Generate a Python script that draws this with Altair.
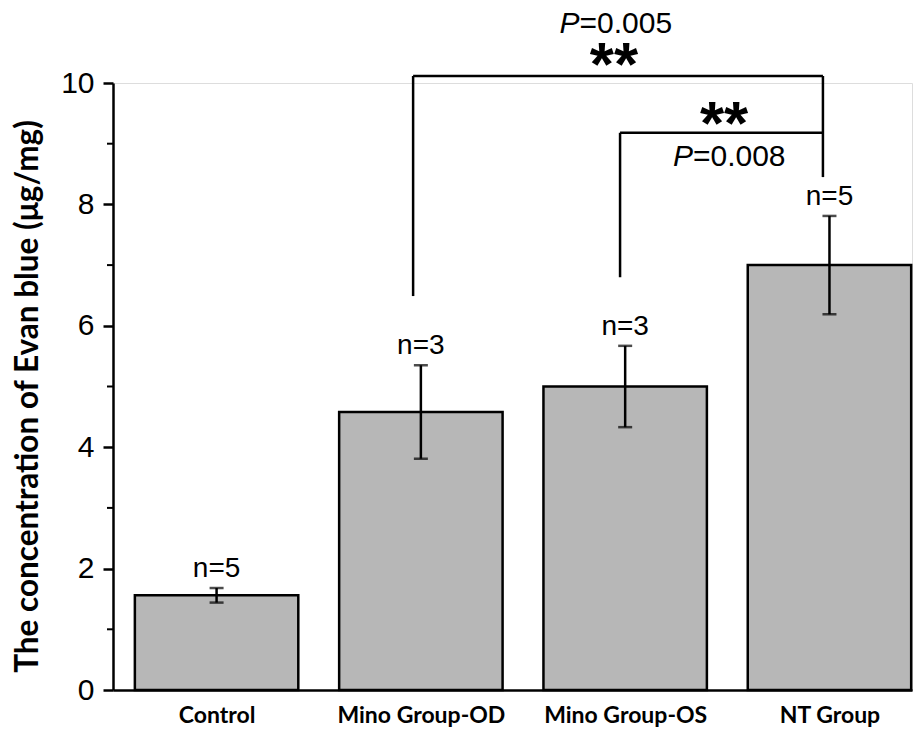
import altair as alt
import pandas as pd

# ---- data ----
groups = ["Control", "Mino Group-OD", "Mino Group-OS", "NT Group"]
positions = [0, 1, 2, 3]
means = [1.56, 4.58, 5.00, 7.00]
errors = [0.12, 0.77, 0.67, 0.81]
n_labels = ["n=5", "n=3", "n=3", "n=5"]

# significance brackets (x in group-position units, y in data units)
seg_x = [0.962, 0.962, 2.968, 1.975, 1.975]
seg_x2 = [2.968, 0.962, 2.968, 2.968, 1.975]
seg_y = [10.115, 10.115, 10.115, 9.18, 9.18]
seg_y2 = [10.115, 6.49, 8.45, 9.18, 6.80]

p_values = ["=0.005", "=0.008"]
p_x = [1.953, 2.508]
p_y = [10.82, 8.63]
star_labels = ["**", "**"]
star_x = [1.945, 2.484]
star_y = [9.97, 9.00]

minor_ticks = [1, 3, 5, 7, 9]

half_bar = 0.4

bars = pd.DataFrame({
    "group": groups,
    "pos": positions,
    "mean": means,
    "err": errors,
    "n": n_labels,
})
bars["left"] = bars["pos"] - half_bar
bars["right"] = bars["pos"] + half_bar
bars["lo"] = bars["mean"] - bars["err"]
bars["hi"] = bars["mean"] + bars["err"]

segs = pd.DataFrame({"x": seg_x, "x2": seg_x2, "y": seg_y, "y2": seg_y2})
ptext = pd.DataFrame({"label": p_values, "x": p_x, "y": p_y})
stars = pd.DataFrame({"label": star_labels, "x": star_x, "y": star_y})
minor = pd.DataFrame({"v": minor_ticks})

label_expr = ("datum.value == 0 ? 'Control' : datum.value == 1 ? 'Mino Group-OD' : "
              "datum.value == 2 ? 'Mino Group-OS' : datum.value == 3 ? 'NT Group' : ''")

xscale = alt.Scale(domain=[-0.507, 3.404], nice=False, zero=False)
yscale = alt.Scale(domain=[0, 10], nice=False, zero=True)

x_axis = alt.Axis(
    values=positions, labelExpr=label_expr, title=None, grid=False,
    ticks=False, tickSize=0, domainColor="black", domainWidth=2.5,
    labelFont="Lato", labelFontWeight="bold", labelFontSize=23, labelColor="black",
    labelBaseline="alphabetic", labelPadding=32, labelFlush=False, labelOverlap=False,
)
y_axis = alt.Axis(
    values=[0, 2, 4, 6, 8, 10], format="d", title="The concentration of Evan blue (μg/mg)",
    grid=False, tickSize=10, tickWidth=2.5, tickColor="black",
    domainColor="black", domainWidth=2.5,
    labelFont="Liberation Sans", labelFontSize=30, labelColor="black", labelPadding=9,
    titleFont="Lato", titleFontWeight="bold", titleFontSize=31.5, titleColor="black",
    titleX=-76, titleY=313, titleAlign="center", titleBaseline="alphabetic", titleAngle=270,
)

bar_layer = alt.Chart(bars).mark_rect(
    fill="#b7b7b7", stroke="black", strokeWidth=2.5
).encode(
    x=alt.X("left:Q", scale=xscale, axis=x_axis),
    x2="right:Q",
    y=alt.Y("mean:Q", scale=yscale, axis=y_axis),
    y2=alt.datum(0),
)

err_rule = alt.Chart(bars).mark_rule(color="black", strokeWidth=2.5).encode(
    x="pos:Q", y="lo:Q", y2="hi:Q"
)
cap_hi = alt.Chart(bars).mark_tick(color="black", orient="horizontal", size=14, thickness=2.5).encode(
    x="pos:Q", y="hi:Q"
)
cap_lo = alt.Chart(bars).mark_tick(color="black", orient="horizontal", size=14, thickness=2.5).encode(
    x="pos:Q", y="lo:Q"
)
n_text = alt.Chart(bars).mark_text(
    font="Liberation Sans", fontSize=28, color="black", baseline="alphabetic", dy=-11
).encode(x="pos:Q", y="hi:Q", text="n:N")

seg_layer = alt.Chart(segs).mark_rule(color="black", strokeWidth=2.5).encode(
    x="x:Q", x2="x2:Q", y="y:Q", y2="y2:Q"
)

p_italic = alt.Chart(ptext).mark_text(
    font="Liberation Sans", fontSize=30, fontStyle="italic", color="black",
    align="right", baseline="alphabetic", dx=-36
).encode(x="x:Q", y="y:Q", text=alt.value("P"))
p_rest = alt.Chart(ptext).mark_text(
    font="Liberation Sans", fontSize=30, color="black",
    align="left", baseline="alphabetic", dx=-36
).encode(x="x:Q", y="y:Q", text="label:N")

star_layer = alt.Chart(stars).mark_text(
    font="Liberation Sans", fontSize=62, fontWeight="bold", color="black",
    align="center", baseline="alphabetic"
).encode(x="x:Q", y="y:Q", text="label:N")

minor_layer = alt.Chart(minor).mark_rule(color="black", strokeWidth=2).encode(
    x=alt.value(-6), x2=alt.value(0), y="v:Q"
)

chart = alt.layer(
    bar_layer, err_rule, cap_hi, cap_lo, n_text, seg_layer,
    p_italic, p_rest, star_layer, minor_layer
).properties(
    width=799, height=607,
    autosize=alt.AutoSizeParams(type="none"),
    padding={"left": 105, "top": 75, "right": 2, "bottom": 38},
).configure_view(stroke=None).configure(background="white")

chart.save("out.html", embed_options={"renderer": "svg", "actions": False})
